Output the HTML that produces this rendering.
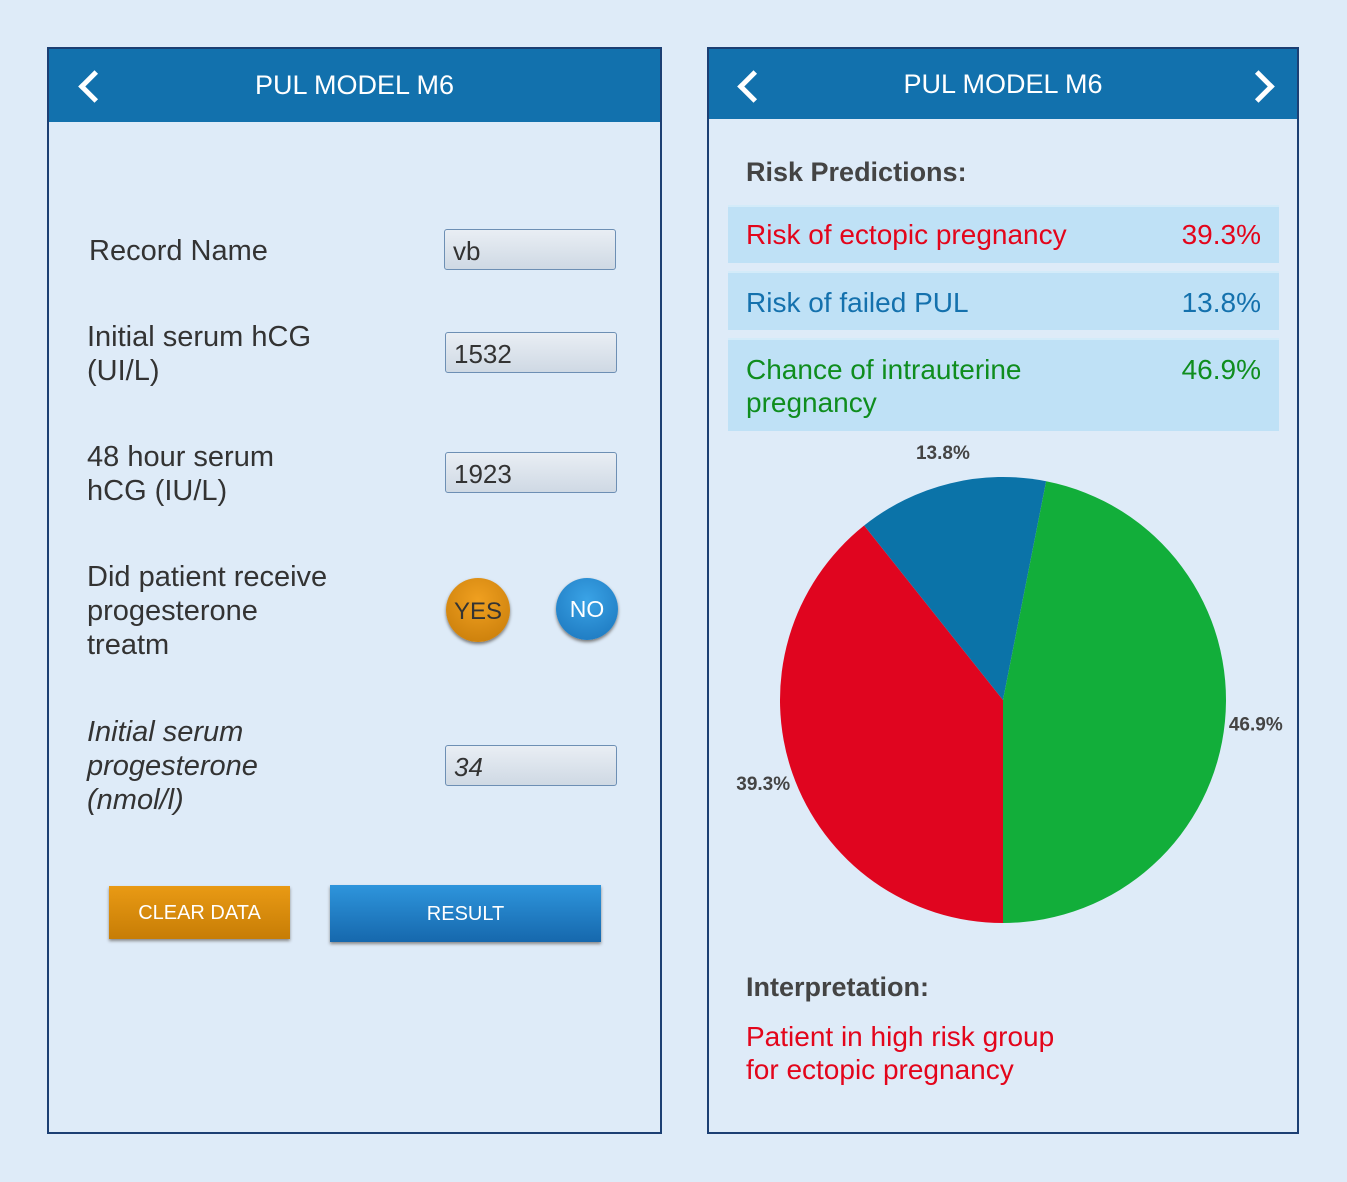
<!DOCTYPE html>
<html><head><meta charset="utf-8"><style>
body{margin:0;width:1347px;height:1182px;background:#deebf8;font-family:"Liberation Sans",sans-serif;position:relative;overflow:hidden}
.panel{position:absolute;border:2px solid #1c3f73;background:#deebf8;box-sizing:border-box}
.hdr{position:absolute;left:0;right:0;top:0;background:#1271ad;color:#fff;font-size:27px;text-align:center}
.chev{position:absolute;top:18px;width:18px;height:18px;border-left:5px solid #fff;border-bottom:5px solid #fff}
.lbl{position:absolute;color:#333;font-size:29px;line-height:34px}
.inp{position:absolute;width:172px;height:41px;border:1.5px solid #6d8fb4;border-radius:3px;background:linear-gradient(#e9eef4,#cfd9e4);box-sizing:border-box;font-size:26px;color:#333;padding:6px 8px}
.row{position:absolute;left:19px;width:551px;background:#bfe1f6;font-size:28px;border-top:2px solid #d3ebf9}
.row span{position:absolute;right:18px}
</style></head><body>
<div class="panel" style="left:47px;top:47px;width:615px;height:1087px">
 <div class="hdr" style="height:73px;line-height:73px">PUL MODEL M6</div>
 <div class="chev" style="left:34px;top:26px;transform:rotate(45deg)"></div>
 <div class="lbl" style="left:40px;top:185px">Record Name</div>
 <div class="inp" style="left:395px;top:180px">vb</div>
 <div class="lbl" style="left:38px;top:271px">Initial serum hCG<br>(UI/L)</div>
 <div class="inp" style="left:396px;top:283px">1532</div>
 <div class="lbl" style="left:38px;top:391px">48 hour serum<br>hCG (IU/L)</div>
 <div class="inp" style="left:396px;top:403px">1923</div>
 <div class="lbl" style="left:38px;top:511px">Did patient receive<br>progesterone<br>treatm</div>
 <div style="position:absolute;left:397px;top:529px;width:64px;height:64px;border-radius:50%;background:radial-gradient(circle at 50% 35%,#f0a020,#c57a08);box-shadow:0 2px 3px #777;color:#333;font-size:24px;text-align:center;line-height:68px">YES</div>
 <div style="position:absolute;left:507px;top:529px;width:62px;height:62px;border-radius:50%;background:radial-gradient(circle at 50% 35%,#3aa3e6,#1a74bb);box-shadow:0 2px 3px #777;color:#fff;font-size:23px;text-align:center;line-height:62px">NO</div>
 <div class="lbl" style="left:38px;top:666px;font-style:italic">Initial serum<br>progesterone<br>(nmol/l)</div>
 <div class="inp" style="left:396px;top:696px;font-style:italic">34</div>
 <div style="position:absolute;left:60px;top:837px;width:181px;height:53px;background:linear-gradient(#e99a14,#c77d06);box-shadow:0 2px 3px #888;color:#fff;font-size:20px;text-align:center;line-height:55px">CLEAR DATA</div>
 <div style="position:absolute;left:281px;top:836px;width:271px;height:57px;background:linear-gradient(#2e95dc,#1668ad);box-shadow:0 2px 3px #888;color:#fff;font-size:20px;text-align:center;line-height:58px">RESULT</div>
</div>
<div class="panel" style="left:707px;top:47px;width:592px;height:1087px">
 <div class="hdr" style="height:70px;line-height:70px">PUL MODEL M6</div>
 <div class="chev" style="left:33px;top:26px;transform:rotate(45deg)"></div>
 <div class="chev" style="left:538px;top:26px;transform:rotate(-135deg)"></div>
 <div style="position:absolute;left:37px;top:108px;font-size:27px;font-weight:bold;color:#444">Risk Predictions:</div>
 <div class="row" style="top:156px;height:58px;line-height:56px;color:#e3051b;padding-left:18px;box-sizing:border-box">Risk of ectopic pregnancy<span>39.3%</span></div>
 <div class="row" style="top:222px;height:59px;line-height:59px;color:#1471ad;padding-left:18px;box-sizing:border-box">Risk of failed PUL<span>13.8%</span></div>
 <div class="row" style="top:289px;height:93px;line-height:33px;color:#0f8d1e;padding:13px 0 0 18px;box-sizing:border-box">Chance of intrauterine<br>pregnancy<span style="top:13px">46.9%</span></div>
 <div style="position:absolute;left:37px;top:923px;font-size:27px;font-weight:bold;color:#444">Interpretation:</div>
 <div style="position:absolute;left:37px;top:971px;font-size:28px;line-height:33px;color:#e3051b">Patient in high risk group<br>for ectopic pregnancy</div>
</div>
<svg id="pie" width="1347" height="1182" style="position:absolute;left:0;top:0"></svg>
<script>
const categories=["Ectopic","Failed PUL","Intrauterine"];
const values=[39.3,13.8,46.9];
const labels=["39.3%","13.8%","46.9%"];
const colors=["#e0051f","#0b73a8","#12ae3a"];
const svg=document.getElementById('pie');
const cx=1003,cy=700,R=223,LR=254;
const total=values.reduce((a,b)=>a+b,0);
function pt(a,r){return [cx+Math.sin(a)*r,cy-Math.cos(a)*r];}
let a=Math.PI;
values.forEach((v,i)=>{
 const span=v/total*2*Math.PI;const a2=a+span;
 const p1=pt(a,R),p2=pt(a2,R);
 const p=document.createElementNS('http://www.w3.org/2000/svg','path');
 p.setAttribute('d',`M${cx},${cy}L${p1[0]},${p1[1]}A${R},${R} 0 ${span>Math.PI?1:0} 1 ${p2[0]},${p2[1]}Z`);
 p.setAttribute('fill',colors[i]);
 
 
 svg.appendChild(p);
 const m=pt(a+span/2,LR);
 const t=document.createElementNS('http://www.w3.org/2000/svg','text');
 t.setAttribute('x',m[0]);t.setAttribute('y',m[1]+6);
 t.setAttribute('text-anchor','middle');t.setAttribute('font-size','19');t.setAttribute('font-weight','bold');
 t.setAttribute('fill','#444');t.setAttribute('font-family','Liberation Sans, sans-serif');
 t.textContent=labels[i];
 
 
 svg.appendChild(t);
 a=a2;
});
</script>
</body></html>
